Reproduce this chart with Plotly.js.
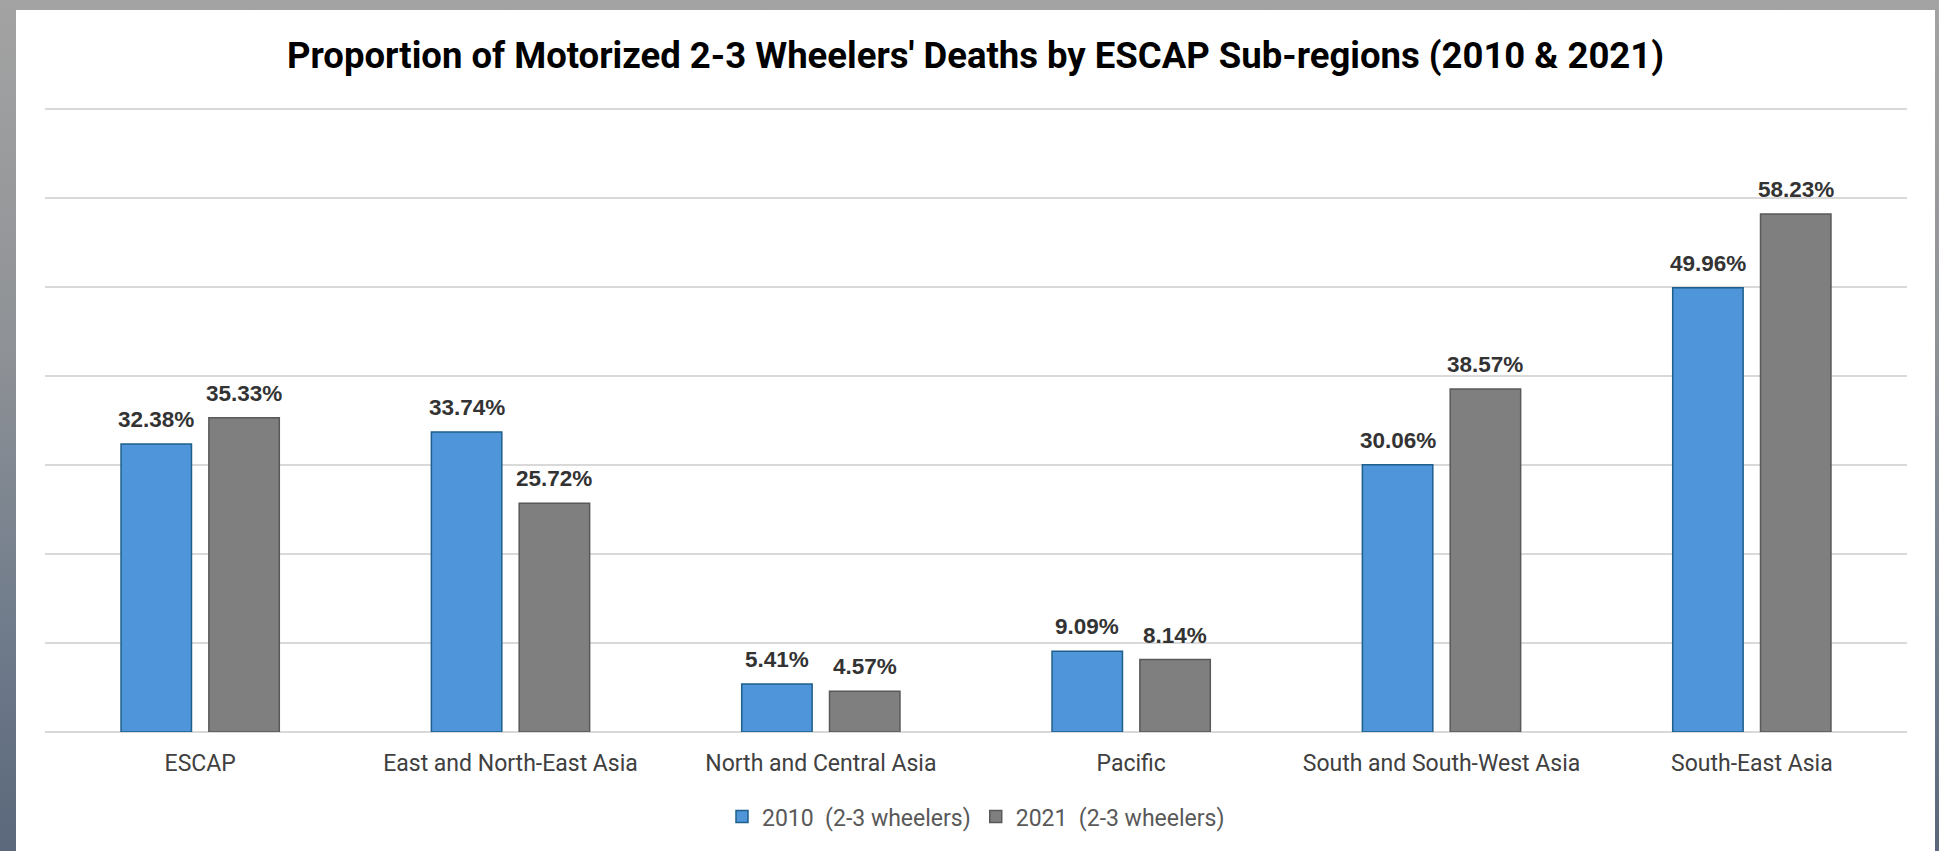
<!DOCTYPE html>
<html>
<head>
<meta charset="utf-8">
<script src="https://cdn.plot.ly/plotly-3.0.1.min.js"></script>
<style>
  html, body { margin: 0; padding: 0; width: 1939px; height: 851px; overflow: hidden; }
  body { background: linear-gradient(to bottom, #a3a3a3 0%, #8f9296 40%, #6f7b8b 75%, #5b687b 100%); }
  #chart { position: absolute; left: 16px; top: 10px; width: 1919px; height: 841px; background: white; }
</style>
</head>
<body>
<div id="chart"></div>
<script>
const regions = ['ESCAP', 'East and North-East Asia', 'North and Central Asia', 'Pacific', 'South and South-West Asia', 'South-East Asia']
const share2010 = [32.38, 33.74, 5.41, 9.09, 30.06, 49.96]
const share2021 = [35.33, 25.72, 4.57, 8.14, 38.57, 58.23]
const seriesNames = ['2010  (2-3 wheelers)', '2021  (2-3 wheelers)']

const blue = '#4e95d9'
const grey = '#7f7f7f'

// bar geometry in category units
const barWidth = 0.227
const barOffsets = [-0.255, 0.028]

const trace2010 = {
    type: 'bar',
    x: regions,
    y: share2010,
    name: seriesNames[0],
    width: barWidth,
    offset: barOffsets[0],
    marker: { color: blue, line: { color: '#1f5f8b', width: 1.5 } },
    hoverinfo: 'x+y',
}

const trace2021 = {
    type: 'bar',
    x: regions,
    y: share2021,
    name: seriesNames[1],
    width: barWidth,
    offset: barOffsets[1],
    marker: { color: grey, line: { color: '#595959', width: 1.5 } },
    hoverinfo: 'x+y',
}

// value labels above each bar, placed with the axes of the chart
const labels = []
;[share2010, share2021].forEach((vals, s) => {
    vals.forEach((v, i) => {
        labels.push({
            x: i + barOffsets[s] + barWidth / 2,
            y: v,
            xref: 'x',
            yref: 'y',
            text: v.toFixed(2) + '%',
            showarrow: false,
            yanchor: 'bottom',
            yshift: 10,
            font: { family: 'Liberation Sans, Arial, sans-serif', size: 22.5, color: '#333333', weight: 'bold' },
        })
    })
})

const layout = {
    width: 1919,
    height: 841,
    margin: { l: 29, r: 28, t: 95, b: 119 },
    paper_bgcolor: 'white',
    plot_bgcolor: 'white',
    title: {
        text: "<b>Proportion of Motorized 2-3 Wheelers' Deaths by ESCAP Sub-regions (2010 & 2021)</b>",
        font: { family: 'Roboto, sans-serif', size: 36.5, color: '#000000' },
        x: 0.5,
        xanchor: 'center',
        y: 1 - 45 / 841,
        yref: 'container',
        yanchor: 'middle',
    },
    barmode: 'group',
    xaxis: {
        type: 'category',
        range: [-0.5, 5.5],
        showgrid: false,
        showline: false,
        ticks: '',
        ticklabelstandoff: 15,
        tickfont: { family: 'Roboto, sans-serif', size: 23, color: '#404040' },
    },
    yaxis: {
        range: [0, 70.5],
        dtick: 10,
        showticklabels: false,
        showgrid: true,
        gridcolor: '#d9d9d9',
        gridwidth: 2,
        zeroline: true,
        zerolinecolor: '#d9d9d9',
        zerolinewidth: 2,
        ticks: '',
    },
    legend: {
        orientation: 'h',
        x: 0.5,
        xanchor: 'center',
        y: -0.135,
        yanchor: 'middle',
        font: { family: 'Roboto, sans-serif', size: 23, color: '#595959' },
        itemwidth: 30,
    },
    annotations: labels,
    showlegend: true,
}

Plotly.newPlot('chart', [trace2010, trace2021], layout, { displayModeBar: false, responsive: false })
</script>
</body>
</html>
